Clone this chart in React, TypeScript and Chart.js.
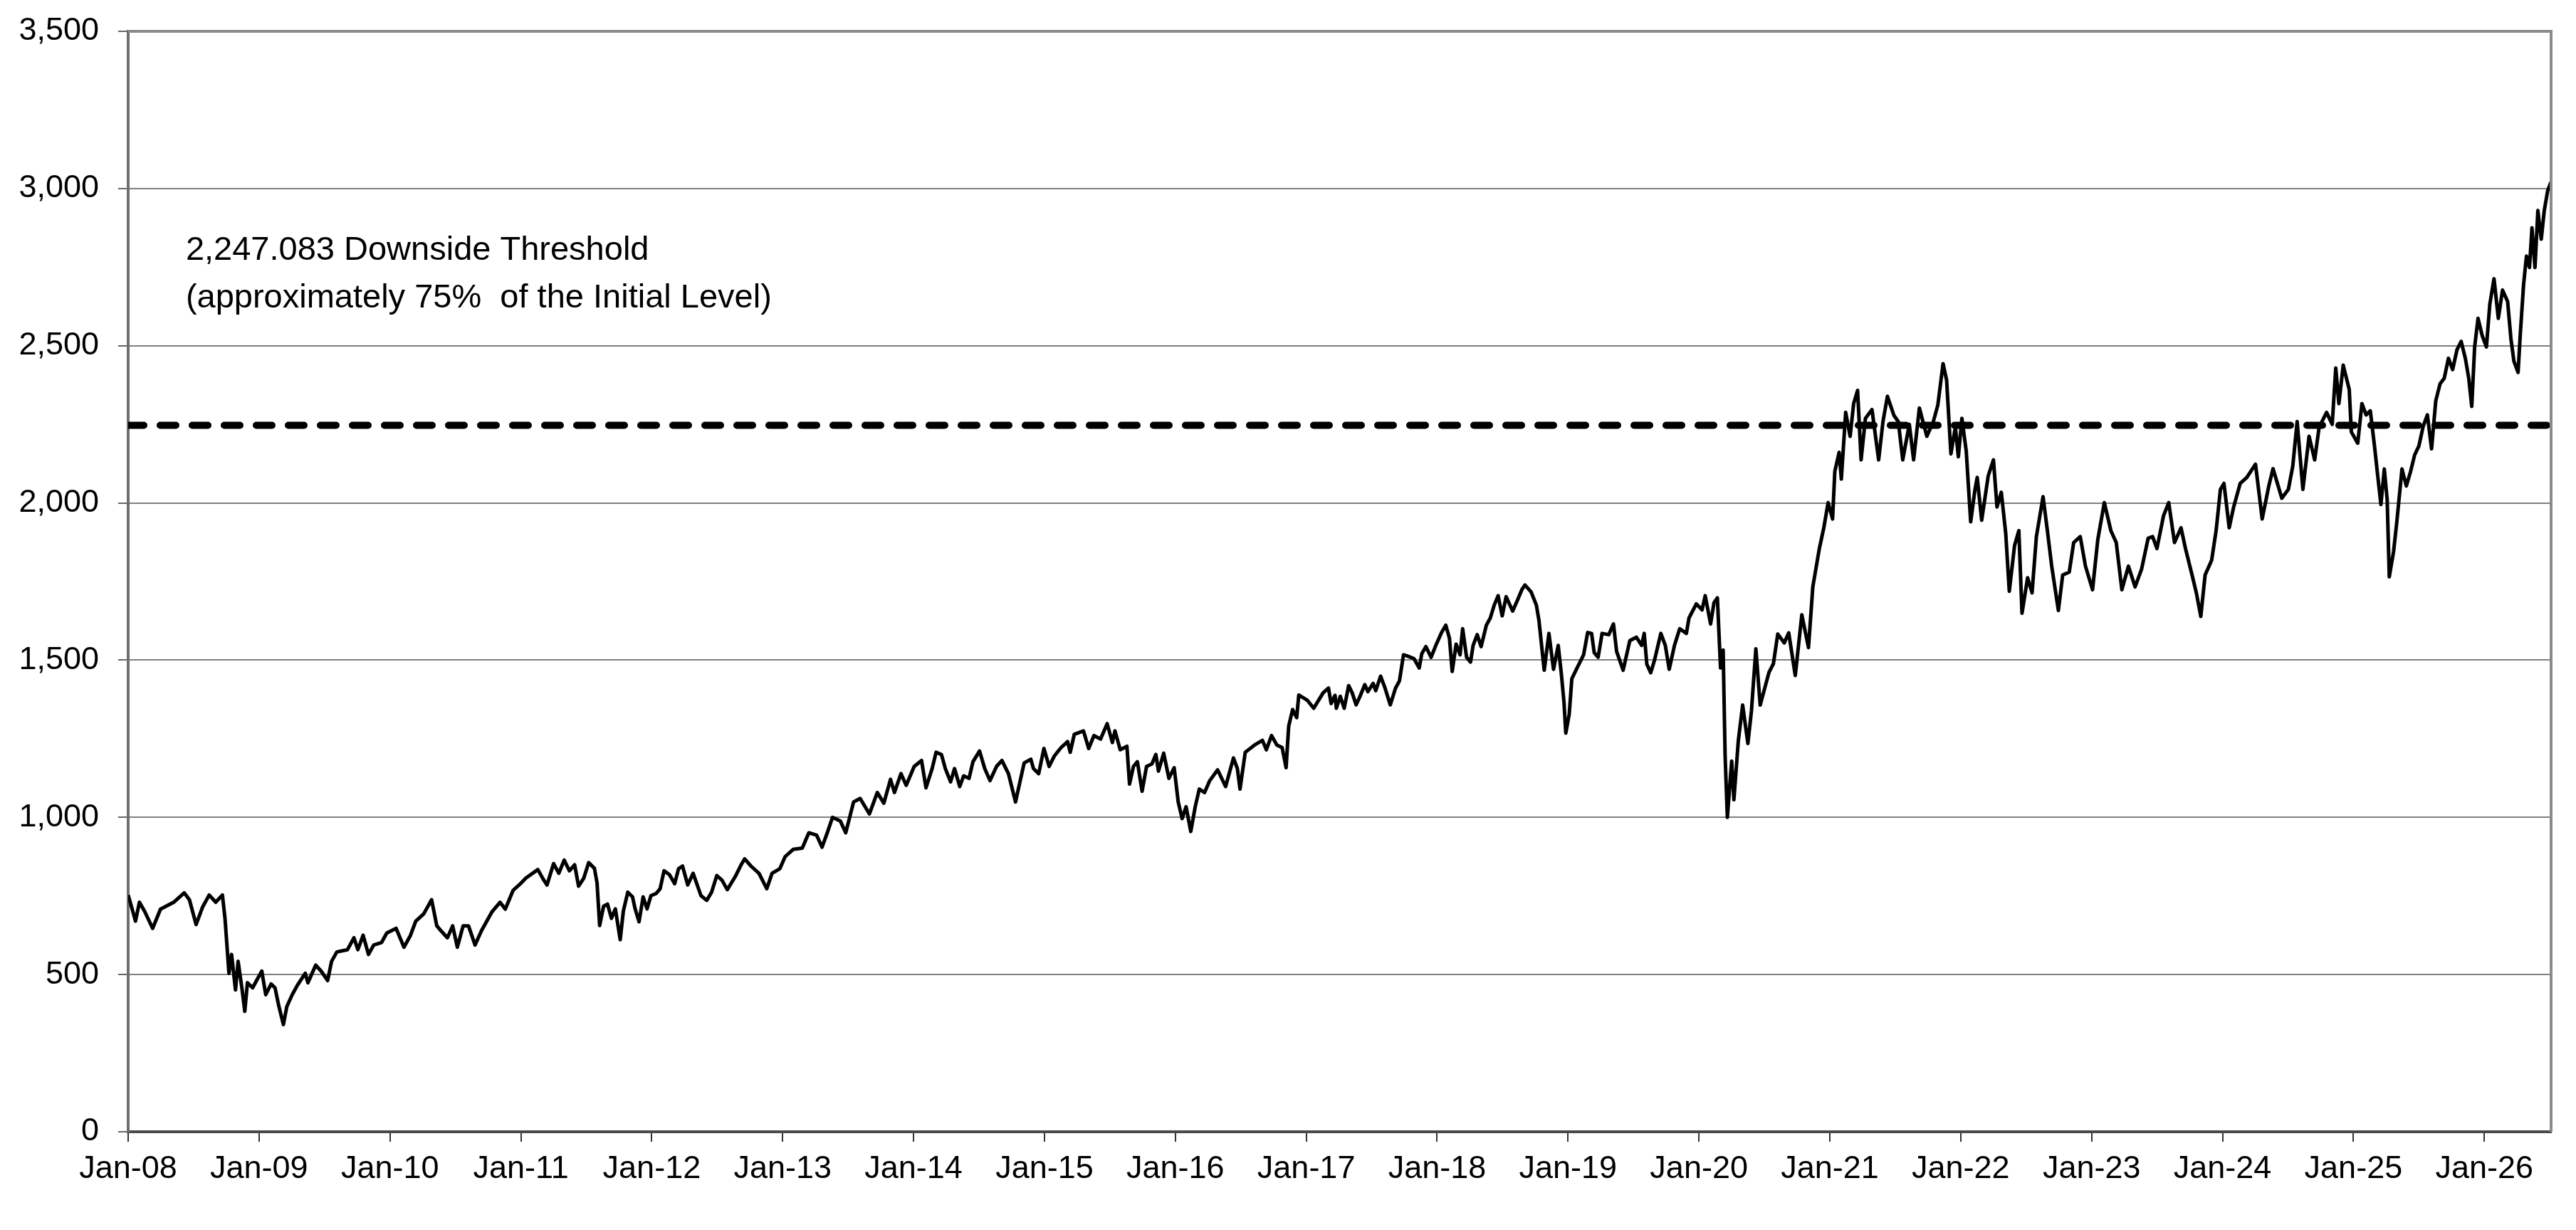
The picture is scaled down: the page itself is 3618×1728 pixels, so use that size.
import React, { useEffect, useRef } from 'react';
import { Chart, Plugin, registerables } from 'chart.js';

Chart.register(...registerables);

// x values are years since Jan 2008 (0 = Jan-08), y is the index level
const tickLabels = [
  'Jan-08', 'Jan-09', 'Jan-10', 'Jan-11', 'Jan-12', 'Jan-13', 'Jan-14', 'Jan-15', 'Jan-16', 'Jan-17',
  'Jan-18', 'Jan-19', 'Jan-20', 'Jan-21', 'Jan-22', 'Jan-23', 'Jan-24', 'Jan-25', 'Jan-26',
];
const xAxisEnd = 18.51;
const threshold = 2247.083;
const noteLines = ['2,247.083 Downside Threshold', '(approximately 75%  of the Initial Level)'];

const era2008to2010: [number, number][] = [
  [0.000, 753], [0.026, 715], [0.056, 670], [0.086, 730], [0.127, 700], [0.187, 647], [0.247, 708], [0.348, 730],
  [0.428, 760], [0.468, 738], [0.519, 659], [0.569, 715], [0.619, 753], [0.669, 730], [0.720, 753], [0.740, 678],
  [0.770, 504], [0.790, 564], [0.820, 451], [0.840, 542], [0.871, 451], [0.891, 383], [0.911, 474], [0.951, 458],
  [0.981, 481], [1.021, 511], [1.051, 436], [1.092, 470], [1.122, 458], [1.152, 398], [1.186, 341], [1.212, 398],
  [1.253, 436], [1.293, 466], [1.353, 504], [1.373, 474], [1.433, 530], [1.474, 511], [1.524, 481], [1.554, 542],
  [1.594, 572], [1.675, 579], [1.725, 617], [1.755, 579], [1.795, 625], [1.836, 564], [1.876, 594], [1.936, 602],
  [1.976, 632], [2.047, 647], [2.107, 587], [2.157, 625], [2.197, 670], [2.258, 693], [2.318, 738], [2.358, 655],
  [2.388, 640], [2.439, 617], [2.479, 655], [2.515, 587], [2.559, 655], [2.600, 655], [2.650, 594], [2.700, 640],
  [2.780, 700], [2.841, 730], [2.881, 708], [2.941, 768],
];

const era2011to2013: [number, number][] = [
  [3.002, 791], [3.039, 807], [3.130, 834], [3.170, 804], [3.200, 785], [3.250, 853], [3.290, 822], [3.331, 864],
  [3.371, 830], [3.411, 849], [3.441, 781], [3.481, 807], [3.518, 856], [3.562, 838], [3.582, 792], [3.602, 656],
  [3.632, 717], [3.662, 724], [3.692, 679], [3.722, 709], [3.759, 611], [3.783, 702], [3.817, 762], [3.853, 747],
  [3.873, 709], [3.903, 668], [3.934, 747], [3.964, 709], [3.994, 751], [4.034, 758], [4.064, 773], [4.094, 830],
  [4.135, 818], [4.175, 789], [4.205, 837], [4.235, 845], [4.275, 785], [4.316, 822], [4.376, 751], [4.420, 736],
  [4.457, 762], [4.497, 815], [4.537, 800], [4.577, 770], [4.637, 811], [4.688, 853], [4.710, 868], [4.758, 845],
  [4.819, 822], [4.879, 773], [4.919, 822], [4.979, 837], [5.019, 875], [5.080, 898], [5.150, 902], [5.200, 951],
  [5.260, 943], [5.301, 905], [5.341, 951], [5.381, 1000], [5.441, 988], [5.482, 951], [5.542, 1049], [5.592, 1060],
  [5.663, 1011], [5.723, 1079], [5.773, 1045], [5.824, 1121], [5.854, 1079], [5.904, 1139], [5.944, 1102],
];

const era2014to2016: [number, number][] = [
  [6.005, 1162], [6.061, 1181], [6.095, 1094], [6.142, 1155], [6.172, 1207], [6.213, 1200], [6.243, 1155], [6.283, 1113],
  [6.313, 1155], [6.353, 1098], [6.383, 1132], [6.424, 1124], [6.454, 1177], [6.504, 1211], [6.544, 1155], [6.584, 1117],
  [6.634, 1162], [6.675, 1181], [6.725, 1139], [6.779, 1049], [6.815, 1117], [6.845, 1173], [6.896, 1185], [6.916, 1155],
  [6.956, 1139], [6.996, 1219], [7.036, 1162], [7.077, 1196], [7.127, 1222], [7.177, 1241], [7.197, 1207], [7.228, 1264],
  [7.298, 1275], [7.338, 1219], [7.378, 1260], [7.429, 1249], [7.479, 1298], [7.519, 1238], [7.539, 1275], [7.579, 1215],
  [7.630, 1226], [7.650, 1106], [7.680, 1162], [7.710, 1177], [7.746, 1083], [7.780, 1162], [7.821, 1170], [7.851, 1200],
  [7.871, 1147], [7.911, 1204], [7.951, 1124], [7.991, 1158], [8.022, 1049], [8.052, 996], [8.082, 1034], [8.118, 955],
  [8.152, 1034], [8.183, 1090], [8.223, 1079], [8.263, 1117], [8.323, 1151], [8.384, 1098], [8.444, 1189], [8.474, 1155],
  [8.494, 1090], [8.534, 1207], [8.605, 1230], [8.665, 1245], [8.695, 1215], [8.735, 1260], [8.776, 1230], [8.816, 1222],
  [8.846, 1158], [8.866, 1290], [8.896, 1343], [8.927, 1317], [8.943, 1389],
];

const era2017to2019: [number, number][] = [
  [9.007, 1373], [9.057, 1347], [9.129, 1396], [9.170, 1411], [9.190, 1362], [9.220, 1388], [9.230, 1347], [9.260, 1385],
  [9.290, 1347], [9.324, 1419], [9.351, 1396], [9.381, 1358], [9.411, 1385], [9.447, 1422], [9.471, 1400], [9.511, 1426],
  [9.531, 1403], [9.568, 1449], [9.602, 1411], [9.642, 1358], [9.682, 1411], [9.712, 1434], [9.743, 1517], [9.773, 1513],
  [9.823, 1505], [9.863, 1475], [9.883, 1521], [9.914, 1543], [9.954, 1509], [9.994, 1551], [10.034, 1588], [10.066, 1611],
  [10.094, 1570], [10.115, 1464], [10.145, 1551], [10.175, 1517], [10.195, 1600], [10.225, 1509], [10.255, 1494], [10.275, 1547],
  [10.306, 1581], [10.336, 1543], [10.376, 1611], [10.406, 1634], [10.436, 1675], [10.466, 1705], [10.497, 1641], [10.527, 1702],
  [10.577, 1656], [10.617, 1694], [10.647, 1724], [10.671, 1739], [10.718, 1717], [10.758, 1675], [10.778, 1626], [10.798, 1547],
  [10.818, 1468], [10.854, 1585], [10.889, 1471], [10.925, 1547], [10.949, 1456], [10.969, 1366], [10.983, 1268], [11.009, 1328],
  [11.029, 1441], [11.069, 1475], [11.119, 1517], [11.150, 1588], [11.180, 1585], [11.200, 1524], [11.230, 1509], [11.260, 1585],
  [11.311, 1581], [11.347, 1615], [11.371, 1528], [11.421, 1468], [11.472, 1562], [11.522, 1573], [11.562, 1547], [11.582, 1585],
  [11.602, 1487], [11.632, 1460], [11.662, 1502], [11.709, 1585], [11.743, 1547], [11.773, 1471], [11.813, 1547], [11.853, 1600],
  [11.904, 1585], [11.924, 1634], [11.980, 1679],
];

const era2020to2022: [number, number][] = [
  [12.024, 1660], [12.048, 1705], [12.089, 1615], [12.115, 1683], [12.141, 1698], [12.165, 1475], [12.185, 1532], [12.200, 1197],
  [12.217, 1000], [12.250, 1179], [12.267, 1056], [12.301, 1244], [12.334, 1357], [12.374, 1235], [12.401, 1338], [12.435, 1536],
  [12.468, 1357], [12.535, 1461], [12.569, 1489], [12.602, 1583], [12.652, 1555], [12.686, 1587], [12.736, 1451], [12.786, 1644],
  [12.837, 1540], [12.870, 1733], [12.920, 1855], [12.954, 1921], [12.987, 2001], [13.021, 1949], [13.038, 2100], [13.071, 2161],
  [13.088, 2076], [13.121, 2288], [13.155, 2212], [13.182, 2316], [13.212, 2358], [13.239, 2137], [13.272, 2269], [13.322, 2297],
  [13.373, 2137], [13.406, 2259], [13.440, 2339], [13.490, 2278], [13.523, 2259], [13.557, 2137], [13.607, 2250], [13.640, 2137],
  [13.684, 2302], [13.741, 2212], [13.791, 2259], [13.825, 2311], [13.865, 2443], [13.892, 2391], [13.925, 2156], [13.959, 2241],
  [13.982, 2147], [14.009, 2269], [14.042, 2165], [14.076, 1940], [14.109, 2043], [14.126, 2081], [14.160, 1945], [14.210, 2086],
  [14.250, 2137], [14.277, 1987], [14.310, 2034], [14.344, 1902], [14.371, 1719], [14.411, 1864], [14.444, 1912], [14.468, 1649],
  [14.511, 1762], [14.545, 1714], [14.578, 1893], [14.629, 2020], [14.662, 1912], [14.695, 1799], [14.746, 1658], [14.779, 1771],
  [14.829, 1780], [14.863, 1874], [14.913, 1893], [14.953, 1799],
];

const era2023to2026: [number, number][] = [
  [15.007, 1724], [15.047, 1883], [15.097, 2001], [15.147, 1912], [15.188, 1874], [15.231, 1724], [15.281, 1799], [15.332, 1733],
  [15.382, 1790], [15.432, 1888], [15.466, 1893], [15.499, 1855], [15.549, 1959], [15.589, 2001], [15.633, 1874], [15.683, 1921],
  [15.717, 1855], [15.767, 1771], [15.800, 1714], [15.834, 1639], [15.867, 1771], [15.917, 1818], [15.951, 1912], [15.984, 2043],
  [16.011, 2062], [16.051, 1921], [16.085, 1987], [16.135, 2062], [16.185, 2081], [16.252, 2123], [16.303, 1949], [16.353, 2053],
  [16.386, 2109], [16.453, 2015], [16.503, 2043], [16.537, 2118], [16.570, 2259], [16.614, 2043], [16.661, 2212], [16.704, 2137],
  [16.738, 2241], [16.795, 2288], [16.838, 2250], [16.865, 2429], [16.889, 2316], [16.922, 2438], [16.968, 2361], [16.984, 2226],
  [17.033, 2190], [17.065, 2316], [17.097, 2280], [17.129, 2293], [17.161, 2181], [17.187, 2081], [17.210, 1995], [17.236, 2108],
  [17.258, 2009], [17.274, 1765], [17.307, 1846], [17.333, 1946], [17.371, 2108], [17.404, 2054], [17.436, 2099], [17.468, 2153],
  [17.500, 2181], [17.533, 2244], [17.565, 2280], [17.597, 2172], [17.629, 2325], [17.662, 2379], [17.694, 2397], [17.726, 2460],
  [17.758, 2424], [17.791, 2487], [17.823, 2514], [17.855, 2460], [17.881, 2397], [17.904, 2307], [17.926, 2496], [17.952, 2587],
  [17.984, 2532], [18.016, 2496], [18.042, 2632], [18.074, 2713], [18.107, 2587], [18.139, 2677], [18.178, 2641], [18.203, 2523],
  [18.226, 2451], [18.258, 2415], [18.274, 2532], [18.300, 2695], [18.322, 2785], [18.345, 2749], [18.364, 2875], [18.387, 2749],
  [18.409, 2930], [18.435, 2839], [18.458, 2930], [18.484, 2993], [18.509, 3020],
];

const indexPoints = [
  ...era2008to2010, ...era2011to2013, ...era2014to2016,
  ...era2017to2019, ...era2020to2022, ...era2023to2026,
].map(([x, y]) => ({ x, y }));

const FONT = '"Liberation Sans", Arial, Helvetica, sans-serif';

// text label for the threshold, anchored in data units
const noteAnchor = { x: 0.44, y: 2773 };

const notePlugin: Plugin = {
  id: 'thresholdNote',
  afterDatasetsDraw(chart) {
    const { ctx, scales } = chart;
    const px = scales.x.getPixelForValue(noteAnchor.x);
    const py = scales.y.getPixelForValue(noteAnchor.y);
    ctx.save();
    ctx.font = `47px ${FONT}`;
    ctx.fillStyle = '#000';
    ctx.textAlign = 'left';
    ctx.textBaseline = 'alphabetic';
    noteLines.forEach((line, i) => ctx.fillText(line, px, py + i * 67));
    ctx.restore();
  },
};

// gray frame on the top and right of the plot
const framePlugin: Plugin = {
  id: 'plotFrame',
  afterDraw(chart) {
    const { ctx, chartArea } = chart;
    ctx.save();
    ctx.strokeStyle = '#8a8a8a';
    ctx.lineWidth = 4;
    ctx.beginPath();
    ctx.moveTo(chartArea.left, chartArea.top);
    ctx.lineTo(chartArea.right, chartArea.top);
    ctx.lineTo(chartArea.right, chartArea.bottom);
    ctx.stroke();
    ctx.restore();
  },
};

const IndexChart: React.FC = () => {
  const canvasRef = useRef<HTMLCanvasElement | null>(null);

  useEffect(() => {
    if (!canvasRef.current) return;

    const chart = new Chart(canvasRef.current, {
      type: 'line',
      data: {
        datasets: [
          {
            label: 'Index',
            data: indexPoints,
            borderColor: '#000',
            borderWidth: 5,
            pointRadius: 0,
            tension: 0,
            borderJoinStyle: 'round',
          },
          {
            label: 'Downside Threshold',
            data: [{ x: 0, y: threshold }, { x: xAxisEnd, y: threshold }],
            borderColor: '#000',
            borderWidth: 10,
            borderDash: [22, 23],
            borderCapStyle: 'round',
            pointRadius: 0,
          },
        ],
      },
      options: {
        animation: false,
        responsive: true,
        maintainAspectRatio: false,
        devicePixelRatio: 1,
        layout: { padding: { top: 44, right: 35, left: 0, bottom: 0 } },
        plugins: {
          legend: { display: false },
          tooltip: { enabled: false },
        },
        scales: {
          x: {
            type: 'linear',
            min: 0,
            max: xAxisEnd,
            afterBuildTicks: (scale) => {
              scale.ticks = tickLabels.map((_, i) => ({ value: i }));
            },
            afterFit: (scale) => {
              scale.height = 138;
            },
            ticks: {
              autoSkip: false,
              maxRotation: 0,
              padding: 12,
              color: '#000',
              font: { family: FONT, size: 45 },
              callback: (_v, index) => tickLabels[index],
            },
            grid: {
              drawOnChartArea: false,
              drawTicks: true,
              tickLength: 14,
              tickColor: '#333',
              lineWidth: 2,
            },
            border: { display: true, color: '#4a4a4a', width: 4 },
          },
          y: {
            min: 0,
            max: 3500,
            afterFit: (scale) => {
              scale.width = 180;
              // keep the plot top at the layout padding
              scale.paddingTop = 0;
              scale.paddingBottom = 0;
            },
            ticks: {
              stepSize: 500,
              padding: 27,
              color: '#000',
              font: { family: FONT, size: 45 },
              callback: (v) => Number(v).toLocaleString('en-US'),
            },
            grid: {
              color: '#808080',
              lineWidth: 2,
              tickLength: 14,
              tickColor: '#666',
            },
            border: { display: true, color: '#6e6e6e', width: 4 },
          },
        },
      },
      plugins: [notePlugin, framePlugin],
    });

    return () => {
      chart.destroy();
    };
  }, []);

  return <canvas ref={canvasRef}></canvas>;
};

export default function App() {
  return (
    <div style={{ position: 'fixed', left: 0, top: 0, width: '3618px', height: '1728px', background: '#fff' }}>
      <IndexChart />
    </div>
  );
}
